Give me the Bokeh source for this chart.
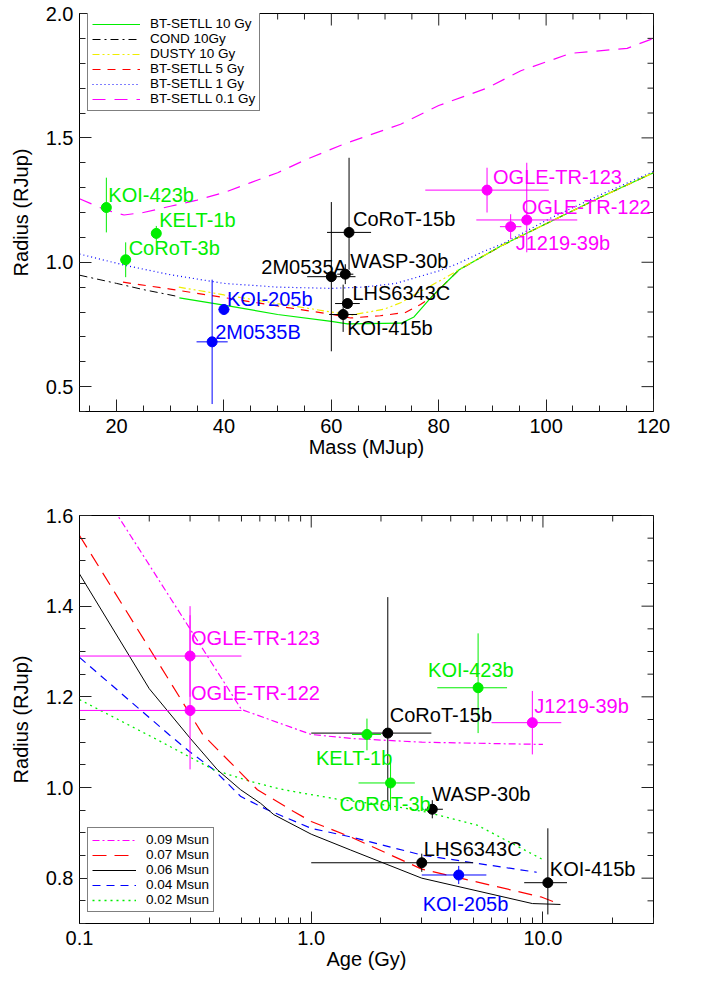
import numpy as np
from bokeh.plotting import figure
from bokeh.models import (FixedTicker, PrintfTickFormatter, Legend, LegendItem,
                          ColumnDataSource, LabelSet)
from bokeh.layouts import column
from bokeh.embed import file_html
from bokeh.resources import INLINE
from bokeh.core.properties import value

FONT = "Liberation Sans"
GREEN = "#00ee00"
MAGENTA = "#ff00ff"
BLUE = "#0000ff"
RED = "#ff0000"
YELLOW = "#eeee00"
BLACK = "#000000"
TICK = "#222222"

# ---------------- top panel data: Mass (MJup) vs Radius (RJup) ----------------
top_names = ["KOI-423b", "KELT-1b", "CoRoT-3b", "KOI-205b", "2M0535B", "2M0535A", "WASP-30b",
             "CoRoT-15b", "LHS6343C", "KOI-415b", "OGLE-TR-123", "OGLE-TR-122", "J1219-39b"]
top_group = ["g", "g", "g", "b", "b", "k", "k", "k", "k", "k", "m", "m", "m"]
top_mass = [18.1, 27.4, 21.7, 40.0, 37.8, 60.0, 62.6, 63.3, 63.0, 62.2, 89.0, 96.4, 93.4]
top_mass_err = [0.0, 0.9, 1.0, 1.0, 2.9, 4.5, 1.5, 4.1, 2.3, 2.6, 11.5, 9.4, 2.0]
top_radius = [1.22, 1.116, 1.01, 0.81, 0.68, 0.942, 0.952, 1.12, 0.834, 0.79, 1.29, 1.17, 1.143]
top_radius_err_hi = [0.12, 0.03, 0.07, 0.02, 0.25, 0.30, 0.04, 0.30, 0.02, 0.12, 0.09, 0.23, 0.05]
top_radius_err_lo = [0.10, 0.03, 0.07, 0.02, 0.25, 0.30, 0.04, 0.15, 0.02, 0.07, 0.09, 0.13, 0.05]

# isochrones (mass, radius)
settl10_mass = [31.7, 40, 50, 60, 63, 73, 75.4, 78.5, 83.8, 92, 100, 110, 120]
settl10_rad = [0.857, 0.828, 0.79, 0.762, 0.752, 0.755, 0.78, 0.857, 0.97, 1.07, 1.155, 1.26, 1.36]
cond10_mass = [13.1, 20, 25, 31.5]
cond10_rad = [0.948, 0.915, 0.89, 0.862]
dusty10_mass = [31.6, 40, 50, 60, 63.6, 69.8, 72.9, 76, 81.6, 84.1, 92, 100, 110, 120]
dusty10_rad = [0.90, 0.869, 0.834, 0.80, 0.787, 0.811, 0.837, 0.876, 0.942, 0.975, 1.07, 1.155, 1.26, 1.36]
settl5_mass = [21.2, 30, 40, 50, 60, 63.6, 69.1, 73.8, 76.6, 78.5, 83.8, 92, 100, 110, 120]
settl5_rad = [0.92, 0.892, 0.858, 0.824, 0.791, 0.776, 0.785, 0.798, 0.83, 0.857, 0.97, 1.07, 1.155, 1.26, 1.36]
settl1_mass = [13.1, 21.7, 30, 40, 50, 60, 66, 72, 76, 80, 83.5, 88, 92, 100.8, 110, 120]
settl1_rad = [1.033, 0.987, 0.95, 0.915, 0.90, 0.895, 0.90, 0.915, 0.94, 0.965, 0.994, 1.04, 1.075, 1.177, 1.27, 1.365]
settl01_mass = [13.1, 18, 21.4, 25, 30, 35, 40, 45, 50, 55, 62.3, 72.9, 80, 89, 95.3, 104.6, 115.1, 120]
settl01_rad = [1.255, 1.21, 1.19, 1.2, 1.225, 1.25, 1.28, 1.32, 1.36, 1.41, 1.475, 1.555, 1.63, 1.70, 1.77, 1.84, 1.86, 1.90]

top_x_range = (13.1, 120)
top_y_range = (0.4, 2.0)
top_x_ticks = [20, 40, 60, 80, 100, 120]
top_x_minor = [15, 25, 30, 35, 45, 50, 55, 65, 70, 75, 85, 90, 95, 105, 110, 115]
top_y_ticks = [0.5, 1.0, 1.5, 2.0]
top_y_minor = [0.4, 0.6, 0.7, 0.8, 0.9, 1.1, 1.2, 1.3, 1.4, 1.6, 1.7, 1.8, 1.9]

# ---------------- bottom panel data: Age (Gy) vs Radius (RJup) ----------------
bot_names = ["OGLE-TR-123", "OGLE-TR-122", "KOI-423b", "J1219-39b", "CoRoT-15b", "KELT-1b",
             "CoRoT-3b", "WASP-30b", "LHS6343C", "KOI-205b", "KOI-415b"]
bot_group = ["m", "m", "g", "m", "k", "g", "g", "k", "k", "b", "k"]
bot_age = [0.3, 0.3, 5.25, 9.0, 2.14, 1.74, 2.2, 3.33, 3.0, 4.33, 10.5]
bot_age_lo = [0.1, 0.1, 3.5, 6.0, 1.0, 1.5, 1.6, 3.1, 1.0, 3.0, 8.3]
bot_age_hi = [0.5, 0.5, 7.0, 12.0, 3.3, 2.0, 2.8, 3.7, 5.0, 5.7, 12.7]
bot_radius = [1.29, 1.17, 1.22, 1.143, 1.12, 1.117, 1.01, 0.952, 0.834, 0.807, 0.79]
bot_radius_err_hi = [0.09, 0.23, 0.12, 0.07, 0.30, 0.035, 0.06, 0.02, 0.02, 0.02, 0.12]
bot_radius_err_lo = [0.09, 0.13, 0.10, 0.07, 0.15, 0.035, 0.06, 0.02, 0.02, 0.02, 0.07]

# evolutionary tracks (age Gy, radius)
m009_age = [0.14, 0.5, 1.0, 1.5, 3.0, 6.0, 10.0]
m009_rad = [1.615, 1.172, 1.117, 1.108, 1.10, 1.097, 1.095]
m007_age = [0.1, 0.34, 0.586, 0.84, 1.0, 1.48, 3.0, 9.9, 11.9]
m007_rad = [1.556, 1.117, 0.995, 0.947, 0.925, 0.891, 0.82, 0.758, 0.742]
m006_age = [0.1, 0.2, 0.3, 0.394, 0.496, 0.605, 0.69, 1.0, 1.48, 3.0, 9.0, 11.9]
m006_rad = [1.471, 1.218, 1.109, 1.039, 0.995, 0.965, 0.94, 0.897, 0.862, 0.80, 0.744, 0.742]
m004_age = [0.1, 0.243, 0.297, 0.38, 0.497, 0.646, 1.0, 1.48, 3.0, 9.4]
m004_rad = [1.287, 1.117, 1.08, 1.039, 0.98, 0.951, 0.91, 0.891, 0.851, 0.813]
m002_age = [0.1, 0.21, 0.38, 0.55, 0.76, 1.34, 2.2, 3.2, 5.2, 10.07]
m002_rad = [1.194, 1.109, 1.039, 1.013, 0.995, 0.973, 0.96, 0.945, 0.917, 0.84]

bot_x_range = (0.1, 30)
bot_y_range = (0.7, 1.6)
bot_x_ticks = [0.1, 1.0, 10.0]
bot_x_minor = [0.2, 0.3, 0.4, 0.5, 0.6, 0.7, 0.8, 0.9, 2, 3, 4, 5, 6, 7, 8, 9, 20, 30]
bot_y_ticks = [0.8, 1.0, 1.2, 1.4, 1.6]
bot_y_minor = [0.7, 0.75, 0.85, 0.9, 0.95, 1.05, 1.1, 1.15, 1.25, 1.3, 1.35, 1.45, 1.5, 1.55]

# ---------------- styles (label placement in screen px, +dy = down) ----------------
COLOR_OF = {"g": GREEN, "b": BLUE, "k": BLACK, "m": MAGENTA}
top_label_dx = [2, 3, 3, 3, 3, -70, 5, 4, 5, 4, 6, -5, 5]
top_label_dy = [-13, -13, -12, -11, -10, -10, -13, -13, -11, 14, -13, -12.5, 16]
bot_label_dx = [1, 1, -50, 2, 2, -51, -51, 0, 2, -36, 2]
bot_label_dy = [-18.5, -17.5, -18, -17, -18, 24, 21, -15, -14, 29, -14]

FRAME_W = 574
TOP_FRAME_H = 398
BOT_FRAME_H = 408


def style_axis(ax):
    ax.axis_line_color = BLACK
    ax.axis_line_width = 1
    ax.major_tick_line_color = TICK
    ax.minor_tick_line_color = TICK
    ax.major_tick_in = 12
    ax.major_tick_out = 0
    ax.minor_tick_in = 6
    ax.minor_tick_out = 0
    ax.major_label_text_font = FONT
    ax.major_label_text_font_size = "20px"
    ax.major_label_text_color = BLACK
    ax.axis_label_text_font = FONT
    ax.axis_label_text_font_style = "normal"
    ax.axis_label_text_font_size = "20px"
    ax.axis_label_text_color = BLACK


def mirror_ticks(p, xr, yr, log_x, frame_h, xt, xm, yt, ym):
    # inward tick marks on the top and right frame edges, lengths in px converted to data units
    def x_in(px):
        if log_x:
            lx0, lx1 = np.log10(xr[0]), np.log10(xr[1])
            return 10 ** (lx1 - px / FRAME_W * (lx1 - lx0))
        return xr[1] - px / FRAME_W * (xr[1] - xr[0])

    def y_in(px):
        return yr[1] - px / frame_h * (yr[1] - yr[0])

    for ticks, length in ((xt, 12), (xm, 6)):
        n = len(ticks)
        p.segment(x0=ticks, y0=[yr[1]] * n, x1=ticks, y1=[y_in(length)] * n,
                  line_color=TICK, line_width=1)
    for ticks, length in ((yt, 12), (ym, 6)):
        n = len(ticks)
        p.segment(x0=[xr[1]] * n, y0=ticks, x1=[x_in(length)] * n, y1=ticks,
                  line_color=TICK, line_width=1)


def make_panel(xr, yr, log_x, frame_h, border_top, border_bottom, xt, xm, yt, ym,
               xlabel, ylabel, x_fmt):
    p = figure(output_backend="svg", toolbar_location=None,
               x_range=xr, y_range=yr, x_axis_type="log" if log_x else "linear",
               frame_width=FRAME_W, frame_height=frame_h,
               min_border_left=79, min_border_right=41,
               min_border_top=border_top, min_border_bottom=border_bottom,
               background_fill_color="white", border_fill_color="white")
    p.grid.visible = False
    p.outline_line_color = BLACK
    p.xaxis.ticker = FixedTicker(ticks=xt, minor_ticks=xm)
    p.yaxis.ticker = FixedTicker(ticks=yt, minor_ticks=ym)
    if x_fmt:
        p.xaxis.formatter = PrintfTickFormatter(format=x_fmt)
    p.yaxis.formatter = PrintfTickFormatter(format="%.1f")
    style_axis(p.xaxis[0])
    style_axis(p.yaxis[0])
    p.xaxis.axis_label = xlabel
    p.yaxis.axis_label = ylabel
    p.xaxis.major_label_standoff = 7
    p.xaxis.axis_label_standoff = 0
    p.yaxis.major_label_standoff = 6
    p.yaxis.axis_label_standoff = 11
    mirror_ticks(p, xr, yr, log_x, frame_h, xt, xm, yt, ym)
    return p


def draw_points(p, x, xlo, xhi, y, ylo, yhi, groups, names, dx, dy):
    cols = [COLOR_OF[g] for g in groups]
    src = ColumnDataSource(dict(x=x, y=y, xlo=xlo, xhi=xhi, ylo=ylo, yhi=yhi,
                                color=cols, name=names, dx=dx, ndy=[-v for v in dy]))
    p.segment(x0="xlo", y0="y", x1="xhi", y1="y", line_color="color", line_width=1, source=src)
    p.segment(x0="x", y0="ylo", x1="x", y1="yhi", line_color="color", line_width=1, source=src)
    p.scatter(x="x", y="y", size=10, fill_color="color", line_color="color", source=src)
    labels = LabelSet(x="x", y="y", text="name", x_offset="dx", y_offset="ndy",
                      text_color="color", text_font=value(FONT), text_font_size="20px",
                      text_align="left", text_baseline="middle", source=src)
    p.add_layout(labels)


def style_legend(leg, glyph_width):
    leg.label_text_font = FONT
    leg.label_text_font_size = "13.5px"
    leg.label_text_color = BLACK
    leg.glyph_width = glyph_width
    leg.glyph_height = 12
    leg.label_height = 12
    leg.label_standoff = 10
    leg.spacing = -2
    leg.padding = 4
    leg.margin = 0
    leg.border_line_color = BLACK
    leg.border_line_width = 1
    leg.background_fill_color = "white"
    leg.background_fill_alpha = 1.0


# ---------------- top figure ----------------
p1 = make_panel(top_x_range, top_y_range, False, TOP_FRAME_H, 13, 72,
                top_x_ticks, top_x_minor, top_y_ticks, top_y_minor,
                "Mass (MJup)", "Radius (RJup)", None)

r_01 = p1.line(settl01_mass, settl01_rad, line_color=MAGENTA, line_width=1.2, line_dash="13 9")
r_1 = p1.line(settl1_mass, settl1_rad, line_color=BLUE, line_width=1.2, line_dash="1 3")
r_5 = p1.line(settl5_mass, settl5_rad, line_color=RED, line_width=1.2, line_dash="8 7")
r_10 = p1.line(settl10_mass, settl10_rad, line_color=GREEN, line_width=1.2)
r_cond = p1.line(cond10_mass, cond10_rad, line_color=BLACK, line_width=1, line_dash="8 4 2 4")
r_dusty = p1.line(dusty10_mass, dusty10_rad, line_color=YELLOW, line_width=1.2, line_dash="7 3 2 3 2 3")

tm = np.array(top_mass)
tme = np.array(top_mass_err)
tr = np.array(top_radius)
draw_points(p1, top_mass, list(tm - tme), list(tm + tme), top_radius,
            list(tr - np.array(top_radius_err_lo)), list(tr + np.array(top_radius_err_hi)),
            top_group, top_names, top_label_dx, top_label_dy)

leg1 = Legend(items=[
    LegendItem(label="BT-SETLL 10 Gy", renderers=[r_10]),
    LegendItem(label="COND 10Gy", renderers=[r_cond]),
    LegendItem(label="DUSTY 10 Gy", renderers=[r_dusty]),
    LegendItem(label="BT-SETLL 5 Gy", renderers=[r_5]),
    LegendItem(label="BT-SETLL 1 Gy", renderers=[r_1]),
    LegendItem(label="BT-SETLL 0.1 Gy", renderers=[r_01]),
], location=(8, 300))
style_legend(leg1, 48)
p1.add_layout(leg1)

# ---------------- bottom figure ----------------
p2 = make_panel(bot_x_range, bot_y_range, True, BOT_FRAME_H, 32, 50,
                bot_x_ticks, bot_x_minor, bot_y_ticks, bot_y_minor,
                "Age (Gy)", "Radius (RJup)", "%.1f")

r_009 = p2.line(m009_age, m009_rad, line_color=MAGENTA, line_width=1.2, line_dash="7 3 2 3")
r_004 = p2.line(m004_age, m004_rad, line_color=BLUE, line_width=1.2, line_dash="8 6")
r_002 = p2.line(m002_age, m002_rad, line_color=GREEN, line_width=1.3, line_dash="2 4")
r_006 = p2.line(m006_age, m006_rad, line_color=BLACK, line_width=1)
r_007 = p2.line(m007_age, m007_rad, line_color=RED, line_width=1.2, line_dash="14 8")

br = np.array(bot_radius)
draw_points(p2, bot_age, bot_age_lo, bot_age_hi, bot_radius,
            list(br - np.array(bot_radius_err_lo)), list(br + np.array(bot_radius_err_hi)),
            bot_group, bot_names, bot_label_dx, bot_label_dy)

leg2 = Legend(items=[
    LegendItem(label="0.09 Msun", renderers=[r_009]),
    LegendItem(label="0.07 Msun", renderers=[r_007]),
    LegendItem(label="0.06 Msun", renderers=[r_006]),
    LegendItem(label="0.04 Msun", renderers=[r_004]),
    LegendItem(label="0.02 Msun", renderers=[r_002]),
], location=(8, 11))
style_legend(leg2, 44)
p2.add_layout(leg2)

layout = column(p1, p2, spacing=0)
open("out.html", "w").write(file_html(layout, INLINE))
